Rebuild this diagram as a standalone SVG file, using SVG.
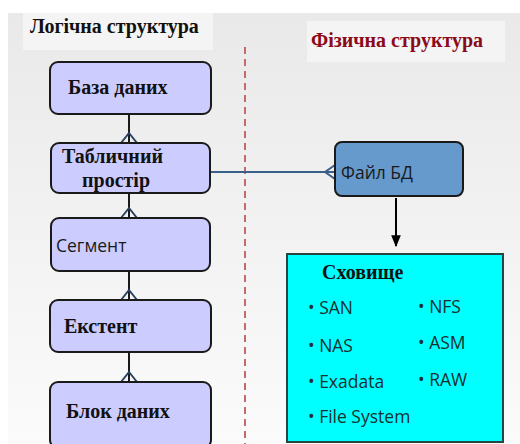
<svg xmlns="http://www.w3.org/2000/svg" width="520" height="444" viewBox="0 0 520 444">
<defs>
<linearGradient id="bg" x1="0" y1="0" x2="0" y2="1">
<stop offset="0" stop-color="#e9e9e9"/>
<stop offset="1" stop-color="#fbfbfb"/>
</linearGradient>
<marker id="arr" viewBox="0 0 10 10" refX="9" refY="5" markerWidth="6" markerHeight="6" orient="auto">
<path d="M0,1 L10,5 L0,9 z" fill="#000"/>
</marker>
<style>
.logic{fill:#ccccff;stroke:#1a1a1a;stroke-width:2}
.ser{font-family:"Liberation Serif",serif;font-weight:bold;font-size:20px;fill:#111}
.sans{font-family:"Open Sans","DejaVu Sans",sans-serif;font-size:17.5px;fill:#1a1a1a}
.item{font-family:"Open Sans","DejaVu Sans",sans-serif;font-size:17.5px;fill:#173030}
.conn{stroke:#1a1a1a;stroke-width:2;fill:none}
.crow{stroke:#2a4060;stroke-width:2;fill:none}
</style>
</defs>
<rect x="0" y="0" width="520" height="444" fill="#fff"/>
<rect x="8" y="13" width="512" height="431" fill="url(#bg)"/>
<rect x="23" y="13" width="190" height="37" fill="#f4f4f4"/>
<text x="30" y="33" class="ser">Логічна структура</text>
<rect x="307" y="21" width="198" height="41" fill="#f4f4f4"/>
<text x="311" y="47" class="ser" style="fill:#8b0a1a">Фізична структура</text>
<line x1="245" y1="47" x2="245" y2="444" stroke="#c46a6a" stroke-width="2" stroke-dasharray="7,5"/>
<g id="connectors">
<line x1="129" y1="114" x2="129" y2="143" class="conn"/>
<path d="M121,143 L129,133 L137,143" class="crow"/>
<line x1="129" y1="193" x2="129" y2="218" class="conn"/>
<path d="M121,218 L129,208 L137,218" class="crow"/>
<line x1="129" y1="271" x2="129" y2="300" class="conn"/>
<path d="M121,300 L129,290 L137,300" class="crow"/>
<line x1="129" y1="352" x2="129" y2="382" class="conn"/>
<path d="M121,382 L129,372 L137,382" class="crow"/>
<line x1="210" y1="172" x2="335" y2="172" stroke="#3a5f8a" stroke-width="2"/>
<path d="M335,165 L325,172 L335,179" stroke="#3a5f8a" stroke-width="2" fill="none"/>
<line x1="396" y1="198" x2="396" y2="246" stroke="#000" stroke-width="2" marker-end="url(#arr)"/>
</g>
<g id="node-db">
<rect x="50" y="62" width="161" height="52" rx="8" class="logic"/>
<text x="68" y="94" class="ser">База даних</text>
</g>
<g id="node-tablespace">
<rect x="51" y="143" width="159" height="50" rx="8" class="logic"/>
<text x="62" y="163" class="ser">Табличний</text>
<text x="82" y="187" class="ser">простір</text>
</g>
<g id="node-segment">
<rect x="51" y="218" width="159" height="53" rx="8" class="logic"/>
<text x="56" y="252" class="sans">Сегмент</text>
</g>
<g id="node-extent">
<rect x="50" y="300" width="161" height="52" rx="8" class="logic"/>
<text x="64" y="333" class="ser">Екстент</text>
</g>
<g id="node-block">
<rect x="50" y="382" width="161" height="66" rx="8" class="logic"/>
<text x="66" y="418" class="ser">Блок даних</text>
</g>
<g id="node-file">
<rect x="335" y="142" width="128" height="54" rx="7" fill="#6699cc" stroke="#1a1a1a" stroke-width="2"/>
<text x="341" y="179" class="sans">Файл БД</text>
</g>
<g id="node-storage">
<rect x="287" y="254" width="216" height="188" fill="#00ffff" stroke="#2a4444" stroke-width="2"/>
<text x="322" y="279" class="ser">Сховище</text>
<text x="308" y="314" class="item">• SAN</text>
<text x="308" y="352" class="item">• NAS</text>
<text x="308" y="388" class="item">• Exadata</text>
<text x="308" y="423" class="item">• File System</text>
<text x="418" y="313" class="item">• NFS</text>
<text x="418" y="349" class="item">• ASM</text>
<text x="418" y="386" class="item">• RAW</text>
</g>
</svg>
